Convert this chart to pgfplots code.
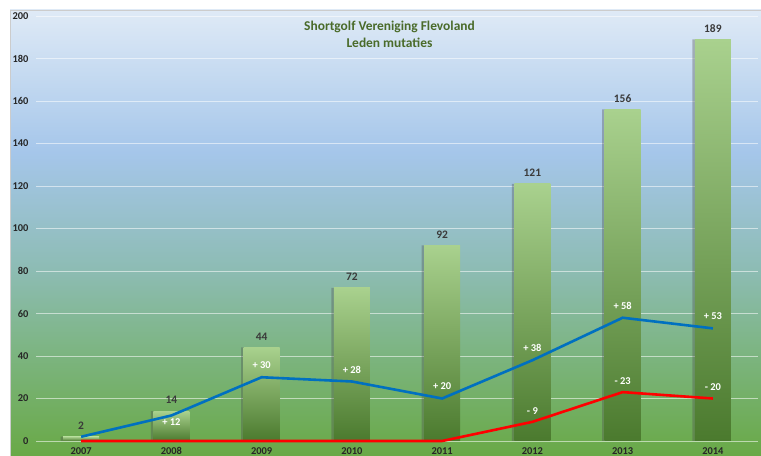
\documentclass[border=0pt]{standalone}
\usepackage{fontspec}
\setmainfont{Carlito}
\usepackage{pgfplots}
\pgfplotsset{compat=1.18}
\definecolor{bgtop}{HTML}{DFEAF6}
\definecolor{bg1}{HTML}{A5C6EA}
\definecolor{bg2}{HTML}{8DBCB4}
\definecolor{bg3}{HTML}{7DB583}
\definecolor{bgbot}{HTML}{69A946}
\definecolor{barTop}{HTML}{A9D18E}
\definecolor{barMid}{HTML}{6AAB40}
\definecolor{barBot}{HTML}{4B7A2E}
\definecolor{lblue}{HTML}{0070C0}
\definecolor{lred}{HTML}{FF0000}
\definecolor{titlegreen}{HTML}{4A6B2A}
\definecolor{lblgray}{HTML}{3A3A3A}
\pgfdeclareverticalshading{bgshade}{100bp}{color(0bp)=(bgbot); color(25bp)=(bgbot); color(37bp)=(bg3); color(46bp)=(bg2); color(59bp)=(bg1); color(75bp)=(bgtop); color(100bp)=(bgtop)}
\pgfplotsset{
  gbar/.style={ybar, bar width=36bp, bar shift=0bp, draw=none, top color=barTop, middle color=barMid, bottom color=barBot,
    nodes near coords, every node near coord/.append style={anchor=center, yshift=11bp, font=\fontsize{11.5}{13}\selectfont\bfseries, text=lblgray}},
}
\begin{document}
\begin{tikzpicture}[x=1bp,y=1bp]
\useasboundingbox (0,0) rectangle (761,456);
\fill[white] (0,0) rectangle (761,456);
\shade[shading=bgshade] (10,0) rectangle (761,446);
\draw[black!20, line width=0.8bp] (10,0) -- (10,446) -- (761,446);
\begin{axis}[
  at={(36bp,15bp)}, anchor=south west,
  scale only axis, width=722bp, height=425bp,
  xmin=-0.5, xmax=7.5, ymin=0, ymax=200,
  xtick={0,...,7}, xticklabels={2007,2008,2009,2010,2011,2012,2013,2014},
  ytick={0,20,...,200},
  axis line style={draw=none}, major tick length=0pt,
  ymajorgrids, grid style={white, opacity=0.55, line width=0.9bp},
  /pgf/number format/assume math mode=true,
  ticklabel style={font=\fontsize{10.5}{12}\selectfont\bfseries, text=black!85},
  yticklabel style={anchor=east, xshift=-4bp},
  xticklabel style={anchor=base, yshift=-13.5bp},
  clip=false,
]
% shadows of bars
\addplot[ybar, bar width=36bp, bar shift=-2.5bp, draw=none, fill=black!70, fill opacity=0.35]
  coordinates {(0,2) (1,14) (2,44) (3,72) (4,92) (5,121) (6,156) (7,189)};
% bars, one plot each so that each has its own gradient
\addplot[gbar] coordinates {(0,2)};
\addplot[gbar] coordinates {(1,14)};
\addplot[gbar] coordinates {(2,44)};
\addplot[gbar] coordinates {(3,72)};
\addplot[gbar] coordinates {(4,92)};
\addplot[gbar] coordinates {(5,121)};
\addplot[gbar] coordinates {(6,156)};
\addplot[gbar] coordinates {(7,189)};
% lines
\addplot[lblue, line width=2.6bp, mark=none]
  coordinates {(0,2) (1,12) (2,30) (3,28) (4,20) (5,38) (6,58) (7,53)};
\addplot[lred, line width=2.6bp, mark=none]
  coordinates {(0,0) (1,0) (2,0) (3,0) (4,0) (5,9) (6,23) (7,20)};
% line labels
\addplot[draw=none, mark=none, nodes near coords, point meta=explicit symbolic,
  every node near coord/.append style={anchor=center, yshift=12bp, font=\fontsize{10.5}{12}\selectfont\bfseries, text=white}]
  coordinates {(2,30) [+ 30] (3,28) [+ 28] (4,20) [+ 20] (5,38) [+ 38] (6,58) [+ 58] (7,53) [+ 53]};
\addplot[draw=none, mark=none, nodes near coords, point meta=explicit symbolic,
  every node near coord/.append style={anchor=center, yshift=-7bp, font=\fontsize{10.5}{12}\selectfont\bfseries, text=white}]
  coordinates {(1,12) [+ 12]};
\addplot[draw=none, mark=none, nodes near coords, point meta=explicit symbolic,
  every node near coord/.append style={anchor=center, yshift=11bp, font=\fontsize{10.5}{12}\selectfont\bfseries, text=white}]
  coordinates {(5,9) [- 9] (6,23) [- 23] (7,20) [- 20]};
\end{axis}
\node[align=center, font=\fontsize{13.5}{17}\selectfont\bfseries, text=titlegreen] at (389.5,421.5) {Shortgolf Vereniging Flevoland\\Leden mutaties};
\end{tikzpicture}
\end{document}
